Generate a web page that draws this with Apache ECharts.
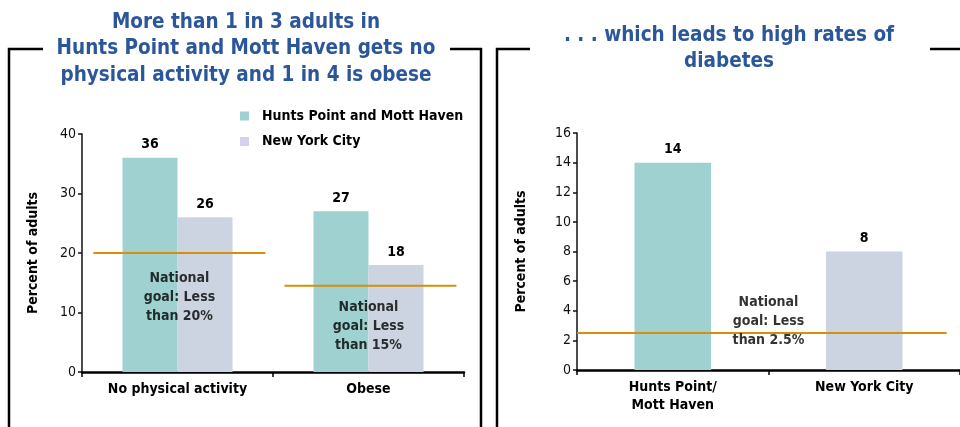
<!DOCTYPE html>
<html>
<head>
<meta charset="utf-8">
<title>Physical activity, obesity and diabetes</title>
<script src="https://cdn.jsdelivr.net/npm/echarts@6/dist/echarts.min.js"></script>
<style>
  html, body { margin: 0; padding: 0; background: #fff; }
  #chart { width: 960px; height: 427px; }
</style>
</head>
<body>
<div id="chart"></div>
<script>
// left panel data
const leftCategories = ['No physical activity', 'Obese']
const hpmhValues = [36, 27]
const nycValues = [26, 18]
// goal lines, x in category units (0..2)
const leftGoal1 = [[0.06, 20], [0.96, 20]]
const leftGoal2 = [[1.06, 14.5], [1.96, 14.5]]
const leftNotes = [
  [0.51, 12.6, 'National\ngoal: Less\nthan 20%'],
  [1.5, 7.7, 'National\ngoal: Less\nthan 15%']
]

// right panel data
const rightCategories = ['Hunts Point/\nMott Haven', 'New York City']
const diabetesValues = [14, 8]
const rightGoal = [[0, 2.5], [1.93, 2.5]]
const rightNotes = [[1.0, 3.3, 'National\ngoal: Less\nthan 2.5%']]

const FONT = '"DejaVu Sans Condensed", "DejaVu Sans", sans-serif'
const TEAL = '#a0d1d1'
const GREY = '#cbd4e0'
const GOLD = '#d48f0b'
const BLUE = '#2b579a'
const INK = '#000'

const chart = echarts.init(document.getElementById('chart'))

function valueAxis(gridIndex, max, interval, gap) {
  return {
    type: 'value',
    gridIndex: gridIndex,
    min: 0,
    max: max,
    interval: interval,
    name: 'Percent of adults',
    nameLocation: 'middle',
    nameGap: gap,
    nameTextStyle: { fontFamily: FONT, fontWeight: 'bold', fontSize: 14, color: INK },
    axisLine: { show: true, lineStyle: { color: '#111', width: 1.5 } },
    axisTick: { show: true, length: 4, lineStyle: { color: '#111', width: 1.5 } },
    axisLabel: { fontFamily: FONT, fontSize: 14, color: '#111', margin: 6 },
    splitLine: { show: false }
  }
}

function catAxis(gridIndex, data) {
  return {
    type: 'category',
    gridIndex: gridIndex,
    data: data,
    axisLine: { lineStyle: { color: '#000', width: 2.5 } },
    axisTick: { show: true, length: 5, lineStyle: { color: '#000', width: 1.5 } },
    axisLabel: { fontFamily: FONT, fontWeight: 'bold', fontSize: 14, color: INK, margin: 8, lineHeight: 18 }
  }
}

function hiddenAxis(gridIndex) {
  return { type: 'value', gridIndex: gridIndex, min: 0, max: 2, show: false }
}

function goalLine(xIdx, yIdx, data) {
  return {
    type: 'line',
    xAxisIndex: xIdx,
    yAxisIndex: yIdx,
    data: data,
    symbol: 'none',
    silent: true,
    lineStyle: { color: GOLD, width: 2 },
    z: 5
  }
}

function notes(xIdx, yIdx, data) {
  return {
    type: 'scatter',
    xAxisIndex: xIdx,
    yAxisIndex: yIdx,
    data: data,
    symbolSize: 0,
    silent: true,
    z: 6,
    label: {
      show: true,
      position: 'inside',
      formatter: p => p.value[2],
      fontFamily: FONT,
      fontWeight: 'bold',
      fontSize: 14,
      lineHeight: 19,
      color: INK,
      textBorderWidth: 0,
      align: 'center'
    }
  }
}

const barLabel = {
  show: true,
  position: 'top',
  distance: 6,
  fontFamily: FONT,
  fontWeight: 'bold',
  fontSize: 14,
  color: INK
}

const titleFont = 'bold 20.5px ' + FONT

chart.setOption({
  animation: false,
  grid: [
    { left: 82, right: 496, top: 134, bottom: 55 },
    { left: 577, right: -1, top: 133, bottom: 57 }
  ],
  xAxis: [catAxis(0, leftCategories), hiddenAxis(0), catAxis(1, rightCategories), hiddenAxis(1)],
  yAxis: [valueAxis(0, 40, 10, 42), valueAxis(1, 16, 2, 49)],
  legend: {
    orient: 'vertical',
    left: 240,
    top: 108,
    padding: 0,
    itemWidth: 9,
    itemHeight: 9,
    itemGap: 9.5,
    icon: 'rect',
    data: [
      { name: 'Hunts Point and Mott Haven', itemStyle: { color: TEAL } },
      { name: 'New York City', itemStyle: { color: '#d3d3e9' } }
    ],
    textStyle: { fontFamily: FONT, fontWeight: 'bold', fontSize: 14, color: INK, lineHeight: 16, padding: [0, 0, 0, 8] }
  },
  graphic: [
    // panel frames, broken where the titles sit
    { type: 'polyline', shape: { points: [[43, 49], [9, 49], [9, 430]] }, style: { stroke: '#000', lineWidth: 2.5, fill: null } },
    { type: 'polyline', shape: { points: [[450, 49], [481, 49], [481, 430]] }, style: { stroke: '#000', lineWidth: 2.5, fill: null } },
    { type: 'polyline', shape: { points: [[530, 49], [497, 49], [497, 430]] }, style: { stroke: '#000', lineWidth: 2.5, fill: null } },
    { type: 'polyline', shape: { points: [[930, 49], [962, 49]] }, style: { stroke: '#000', lineWidth: 2.5, fill: null } },
    {
      type: 'text', x: 246, y: 9,
      style: {
        text: 'More than 1 in 3 adults in\nHunts Point and Mott Haven gets no\nphysical activity and 1 in 4 is obese',
        font: titleFont, fill: BLUE, textAlign: 'center', textVerticalAlign: 'top', lineHeight: 26.6
      }
    },
    {
      type: 'text', x: 729, y: 22,
      style: {
        text: '. . . which leads to high rates of\ndiabetes',
        font: titleFont, fill: BLUE, textAlign: 'center', textVerticalAlign: 'top', lineHeight: 26.6
      }
    }
  ],
  series: [
    {
      name: 'Hunts Point and Mott Haven',
      type: 'bar',
      xAxisIndex: 0,
      yAxisIndex: 0,
      data: hpmhValues,
      barWidth: '28.8%',
      barGap: '0%',
      itemStyle: { color: TEAL },
      label: barLabel
    },
    {
      name: 'New York City',
      type: 'bar',
      xAxisIndex: 0,
      yAxisIndex: 0,
      data: nycValues,
      barWidth: '28.8%',
      barGap: '0%',
      itemStyle: { color: GREY },
      label: barLabel
    },
    goalLine(1, 0, leftGoal1),
    goalLine(1, 0, leftGoal2),
    notes(1, 0, leftNotes),
    {
      name: 'Diabetes',
      type: 'bar',
      xAxisIndex: 2,
      yAxisIndex: 1,
      data: diabetesValues.map((v, i) => ({ value: v, itemStyle: { color: i === 0 ? TEAL : GREY } })),
      barWidth: '40%',
      label: barLabel
    },
    goalLine(3, 1, rightGoal),
    notes(3, 1, rightNotes)
  ]
})
</script>
</body>
</html>
